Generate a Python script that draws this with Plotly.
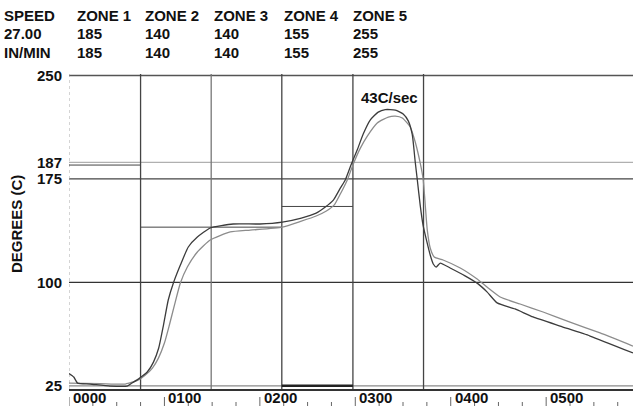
import plotly.graph_objects as go

# ---------------- data ----------------
# time axis units: 100 = "0100"
time_a = [0, 5, 9, 22, 43, 61, 66, 74, 82, 88.5, 94, 99, 104, 109.4, 116.7, 125, 134.5, 148, 172, 200, 223.5,
          243.5, 259, 268.6, 277, 284.3, 289.5, 296.3, 302, 308.3, 315.6, 324, 331.4, 342, 350.2, 355.5, 359.7,
          362.8, 365, 368, 371, 374.6, 378.5, 381.7, 384.8, 389, 399.4, 415, 428.7, 438, 448.6, 467.4, 486.3,
          514.6, 546, 591]
temp_a = [34, 31.4, 27, 26.3, 24.8, 24.8, 27, 30.6, 35, 42.2, 52.4, 69, 87.2, 99.5, 112.5, 125.6, 132.8, 139.4,
          142.3, 142.3, 143.7, 146.6, 150.2, 154.6, 159.6, 168.3, 174.2, 186.5, 195.9, 207.5, 217.6, 223.4, 225.2,
          224.9, 222, 217, 207, 187.2, 174.2, 156, 141.5, 130.6, 119.8, 113.3, 111.1, 114, 110.4, 104.7, 98.9,
          93.1, 85.1, 80.7, 74.9, 68.3, 61.1, 48.8]

time_b = [0, 33, 59, 72.8, 80, 87.4, 93.7, 100, 105.2, 110.5, 116.7, 124, 134.5, 148, 169, 190, 223.5, 243.5,
          259, 269.7, 278, 284.3, 291.6, 297.9, 305.3, 312.6, 323, 334.6, 342, 349.3, 357.6, 362.8, 368, 371.2,
          373.3, 375.4, 378.5, 382.7, 392, 410, 427.7, 438, 451.8, 472.7, 496.8, 525, 556.5, 591]
temp_b = [27, 26.6, 26.3, 29.2, 32.8, 37.9, 45.1, 56, 69.1, 83.5, 99.5, 111.1, 122, 130.7, 136.5, 137.9, 140.1,
          144.4, 148.1, 151.7, 156.1, 164, 174.2, 185.8, 197.3, 206, 215.5, 219.8, 220.5, 219.1, 212.6, 201.7,
          186.5, 174.2, 156.1, 138, 124.9, 118.4, 116.2, 110.4, 102.4, 96.6, 89.4, 84.3, 78.5, 71.2, 63.3, 53.8]

zone_edges = [0, 75, 149, 223, 297.5, 371.5]
zone_setpoints = [185, 140, 140, 155, 255]
header_cols = [["SPEED", "27.00", "IN/MIN"],
               ["ZONE 1", "185", "185"],
               ["ZONE 2", "140", "140"],
               ["ZONE 3", "140", "140"],
               ["ZONE 4", "155", "155"],
               ["ZONE 5", "255", "255"]]
header_x_px = [2, 75, 143, 212, 282, 351]
ref_levels = [250, 187, 175, 100, 25]
ref_colors = ["#555555", "#b0b0b0", "#444444", "#333333", "#8a8a8a"]
x_tick_vals = [0, 100, 200, 300, 400, 500]
x_tick_text = ["0000", "0100", "0200", "0300", "0400", "0500"]
peak_label = "43C/sec"

# ---------------- layout geometry ----------------
W, H = 633, 406
ML, MR, MT, MB = 69, 0, 74, 17
PW, PH = W - ML - MR, H - MT - MB
X_RANGE = [0, 591]
Y_RANGE = [22.7, 251.0]

def px_to_paper_x(px):
    return (px - ML) / PW

def py_to_paper_y(py):
    return (H - MB - py) / PH

FONT = "Liberation Sans, Arial, sans-serif"
TXT = dict(family=FONT, size=15, color="#111111", weight="bold")

fig = go.Figure()

# zone setpoint segments
sx, sy = [], []
for i, sp in enumerate(zone_setpoints):
    sx += [zone_edges[i], zone_edges[i + 1], None]
    sy += [sp, sp, None]
fig.add_trace(go.Scatter(x=sx, y=sy, mode="lines", line=dict(color="#444444", width=1),
                         hoverinfo="skip", showlegend=False))

# temperature profiles
fig.add_trace(go.Scatter(x=time_b, y=temp_b, mode="lines",
                         line=dict(color="#8c8c8c", width=1.3, shape="spline", smoothing=0.5), showlegend=False))
fig.add_trace(go.Scatter(x=time_a, y=temp_a, mode="lines",
                         line=dict(color="#3c3c3c", width=1.3, shape="spline", smoothing=0.5), showlegend=False))

shapes = []
# horizontal reference lines
for lvl, col in zip(ref_levels, ref_colors):
    shapes.append(dict(type="line", xref="paper", x0=0, x1=1, yref="y", y0=lvl, y1=lvl,
                       line=dict(color=col, width=1.5 if lvl == 250 else 1.2), layer="below"))
# thick segment at 25 in zone 4
shapes.append(dict(type="line", xref="x", x0=zone_edges[3], x1=zone_edges[4], yref="y",
                   y0=ref_levels[-1], y1=ref_levels[-1], line=dict(color="#222222", width=2.5), layer="below"))
# vertical zone boundaries
for i, e in enumerate(zone_edges[1:]):
    shapes.append(dict(type="line", xref="x", x0=e, x1=e, yref="paper", y0=0, y1=1,
                       line=dict(color="#777777" if i == 1 else "#444444", width=1.3), layer="below"))
# left border dotted
shapes.append(dict(type="line", xref="x", x0=X_RANGE[0], x1=X_RANGE[0], yref="paper", y0=0, y1=1,
                   line=dict(color="#aaaaaa", width=1, dash="dot"), layer="below"))
# hanging tick marks at bottom
for t in range(0, int(X_RANGE[1]) + 1, 25):
    major = t in x_tick_vals
    shapes.append(dict(type="line", xref="x", x0=t, x1=t, yref="paper",
                       y0=py_to_paper_y(397 if major else 402), y1=py_to_paper_y(406),
                       line=dict(color="#666666", width=1)))

annotations = []
for cx, col in zip(header_x_px, header_cols):
    for r, txt in enumerate(col):
        annotations.append(dict(text=txt, xref="paper", yref="paper", x=px_to_paper_x(cx),
                                y=py_to_paper_y(15 + 18.5 * r), xanchor="left", yanchor="middle",
                                showarrow=False, font=TXT))
# x tick labels (placed just right of each tick, like the original print)
for tv, tt in zip(x_tick_vals, x_tick_text):
    annotations.append(dict(text=tt, xref="x", yref="paper", x=tv, y=py_to_paper_y(397),
                            xanchor="left", yanchor="middle", xshift=2, showarrow=False, font=TXT))
# y title
annotations.append(dict(text="DEGREES (C)", textangle=-90, xref="paper", yref="paper",
                        x=px_to_paper_x(16), y=py_to_paper_y(224), xanchor="center", yanchor="middle",
                        showarrow=False, font=TXT))
# peak label
ipk = temp_a.index(max(temp_a))
annotations.append(dict(text=peak_label, x=time_a[ipk], y=temp_a[ipk], xref="x", yref="y",
                        xanchor="center", yanchor="bottom", xshift=4, yshift=2, showarrow=False, font=TXT))

fig.update_layout(
    width=W, height=H, margin=dict(l=ML, r=MR, t=MT, b=MB, pad=0),
    paper_bgcolor="white", plot_bgcolor="white",
    shapes=shapes, annotations=annotations,
    xaxis=dict(range=X_RANGE, tickvals=x_tick_vals, showticklabels=False, ticks="", automargin=False,
               showline=True, linecolor="#333333", linewidth=1.5, showgrid=False, zeroline=False),
    yaxis=dict(range=Y_RANGE, tickvals=ref_levels, ticks="", showgrid=False, zeroline=False, showline=False,
               automargin=False, ticklabelstandoff=6, tickfont=TXT),
    font=dict(family=FONT),
)

fig.write_html("out.html", config={"displayModeBar": False},
               post_script="document.body.style.margin='0';document.body.style.padding='0';")
